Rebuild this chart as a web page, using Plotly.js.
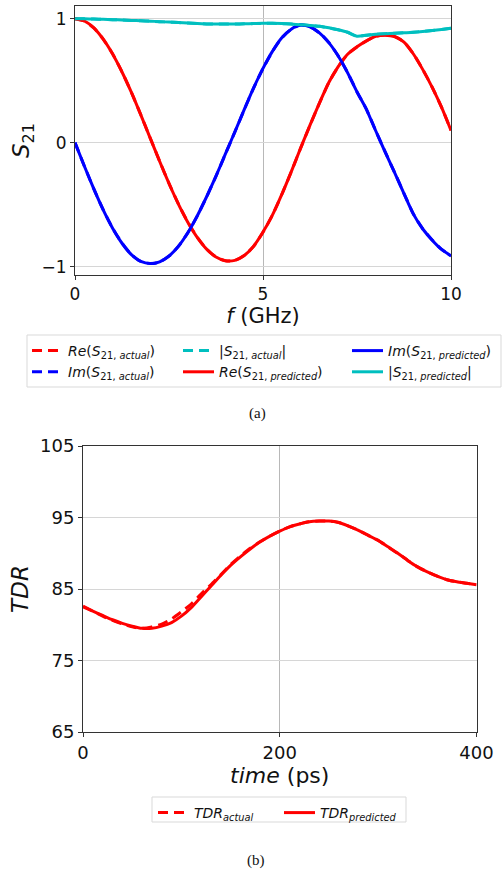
<!DOCTYPE html>
<html>
<head>
<meta charset="utf-8">
<script src="https://cdn.plot.ly/plotly-3.0.1.min.js"></script>
<style>
  html, body { margin: 0; padding: 0; background: #ffffff; }
  #chart { width: 503px; height: 874px; }
</style>
</head>
<body>
<div id="chart"></div>
<script>
// ---- (a) S21 versus frequency ----
const freqGHz = [0, 0.25, 0.5, 0.75, 1.0, 1.25, 1.5, 1.75, 2.0, 2.25, 2.5, 2.75, 3.0, 3.25, 3.5, 3.75,
  4.0, 4.25, 4.5, 4.75, 5.0, 5.25, 5.5, 5.75, 6.0, 6.25, 6.5, 6.75, 7.0, 7.25, 7.5, 7.75,
  8.0, 8.25, 8.5, 8.75, 9.0, 9.25, 9.5, 9.75, 10.0];

const reS21Actual = [1.000, 0.981, 0.925, 0.835, 0.716, 0.571, 0.406, 0.225, 0.038, -0.149, -0.328, -0.494,
  -0.640, -0.762, -0.858, -0.922, -0.952, -0.950, -0.910, -0.836, -0.722, -0.585, -0.418, -0.236,
  -0.045, 0.140, 0.318, 0.484, 0.612, 0.712, 0.772, 0.820, 0.858, 0.868, 0.856, 0.812, 0.716,
  0.590, 0.447, 0.285, 0.100];
const imS21Actual = [0.000, -0.190, -0.373, -0.541, -0.689, -0.810, -0.902, -0.958, -0.975, -0.962, -0.915,
  -0.836, -0.727, -0.592, -0.437, -0.270, -0.092, 0.085, 0.265, 0.440, 0.598, 0.735, 0.845, 0.915,
  0.948, 0.935, 0.886, 0.808, 0.700, 0.565, 0.410, 0.270, 0.095, -0.075, -0.240, -0.410, -0.575,
  -0.695, -0.785, -0.860, -0.912];
const absS21Actual = [1.000, 0.999, 0.997, 0.995, 0.992, 0.989, 0.986, 0.983, 0.980, 0.976, 0.972, 0.968,
  0.964, 0.960, 0.957, 0.956, 0.956, 0.957, 0.958, 0.960, 0.962, 0.962, 0.960, 0.956, 0.951,
  0.945, 0.938, 0.926, 0.910, 0.890, 0.858, 0.866, 0.874, 0.879, 0.882, 0.886, 0.890, 0.897,
  0.905, 0.913, 0.922];

const reS21Predicted = [1.000, 0.981, 0.925, 0.834, 0.715, 0.570, 0.405, 0.224, 0.037, -0.150, -0.329, -0.495,
  -0.641, -0.763, -0.858, -0.922, -0.952, -0.949, -0.910, -0.835, -0.721, -0.584, -0.417, -0.235,
  -0.044, 0.141, 0.319, 0.485, 0.613, 0.713, 0.773, 0.821, 0.858, 0.867, 0.855, 0.811, 0.715,
  0.589, 0.446, 0.284, 0.099];
const imS21Predicted = [0.000, -0.190, -0.373, -0.542, -0.690, -0.811, -0.903, -0.958, -0.975, -0.961, -0.914,
  -0.835, -0.726, -0.591, -0.436, -0.269, -0.091, 0.086, 0.266, 0.441, 0.599, 0.736, 0.846, 0.915,
  0.948, 0.934, 0.885, 0.807, 0.699, 0.564, 0.409, 0.269, 0.094, -0.076, -0.241, -0.411, -0.576,
  -0.696, -0.786, -0.861, -0.913];
const absS21Predicted = [1.000, 0.999, 0.997, 0.995, 0.992, 0.989, 0.986, 0.983, 0.980, 0.976, 0.972, 0.968,
  0.964, 0.960, 0.957, 0.956, 0.956, 0.957, 0.958, 0.960, 0.962, 0.962, 0.960, 0.956, 0.951,
  0.945, 0.938, 0.926, 0.910, 0.890, 0.858, 0.866, 0.874, 0.879, 0.882, 0.886, 0.890, 0.897,
  0.905, 0.913, 0.922];

const freqTicks = [0, 5, 10];
const s21Ticks = [-1, 0, 1];

// ---- (b) TDR versus time ----
const timePs = [0, 10, 20, 30, 40, 50, 60, 70, 80, 90, 100, 110, 120, 130, 140, 150, 160, 170, 180, 190,
  200, 210, 220, 230, 240, 250, 260, 270, 280, 290, 300, 310, 320, 330, 340, 350, 360, 370, 380, 390, 400];
const tdrActual = [82.6, 81.9, 81.2, 80.6, 80.1, 79.7, 79.5, 79.7, 80.1, 80.8, 81.8, 82.9, 84.3, 85.6, 87.0,
  88.4, 89.6, 90.7, 91.6, 92.4, 93.1, 93.7, 94.1, 94.4, 94.5, 94.5, 94.3, 93.8, 93.2, 92.5, 91.8,
  90.9, 90.0, 89.0, 88.1, 87.4, 86.8, 86.3, 86.0, 85.8, 85.6];
const tdrPredicted = [82.5, 81.9, 81.3, 80.7, 80.2, 79.8, 79.5, 79.5, 79.8, 80.3, 81.2, 82.4, 83.9, 85.4, 86.9,
  88.3, 89.5, 90.6, 91.6, 92.4, 93.1, 93.7, 94.1, 94.4, 94.5, 94.5, 94.3, 93.8, 93.2, 92.5, 91.8,
  90.9, 90.0, 89.0, 88.1, 87.4, 86.8, 86.3, 86.0, 85.8, 85.6];

const timeTicks = [0, 200, 400];
const tdrTicks = [65, 75, 85, 95, 105];

// ---- styling ----
const W = 503, H = 874;
const px = v => v / W;            // horizontal pixel -> paper fraction
const py = v => 1 - v / H;        // vertical pixel (from top) -> paper fraction
const FONT = 'DejaVu Sans, sans-serif';
const RED = '#ff0000', BLUE = '#0000ff', CYAN = '#00bfbf';
const DASH = '10px,6px';
const LW = 3;

function line(x, y, color, dashed, name, legend, lower) {
  return {
    type: 'scatter', mode: 'lines', x: x, y: y, name: name,
    line: { color: color, width: LW, dash: dashed ? DASH : 'solid', shape: 'spline', smoothing: 0.6 },
    legend: legend, xaxis: lower ? 'x2' : 'x', yaxis: lower ? 'y2' : 'y',
    hoverinfo: 'skip'
  };
}

const data = [
  line(freqGHz, reS21Actual, RED, true, '<i>Re</i>(<i>S</i><sub>21, <i>actual</i></sub>)', 'legend'),
  line(freqGHz, imS21Actual, BLUE, true, '<i>Im</i>(<i>S</i><sub>21, <i>actual</i></sub>)', 'legend'),
  line(freqGHz, absS21Actual, CYAN, true, '|<i>S</i><sub>21, <i>actual</i></sub>|', 'legend2'),
  line(freqGHz, reS21Predicted, RED, false, '<i>Re</i>(<i>S</i><sub>21, <i>predicted</i></sub>)', 'legend2'),
  line(freqGHz, imS21Predicted, BLUE, false, '<i>Im</i>(<i>S</i><sub>21, <i>predicted</i></sub>)', 'legend3'),
  line(freqGHz, absS21Predicted, CYAN, false, '|<i>S</i><sub>21, <i>predicted</i></sub>|', 'legend3'),
  line(timePs, tdrActual, RED, true, '<i>TDR</i><sub><i>actual</i></sub>', 'legend4', true),
  line(timePs, tdrPredicted, RED, false, '<i>TDR</i><sub><i>predicted</i></sub>', 'legend5', true)
];

const axisBase = {
  showline: true, mirror: true, linecolor: '#333333', linewidth: 1,
  ticks: 'outside', ticklen: 4, tickwidth: 1, tickcolor: '#333333',
  showgrid: true, gridwidth: 1, zeroline: false,
  tickfont: { family: FONT, size: 17, color: '#111111' },
  fixedrange: true, automargin: false
};

function legendAt(x, yTop, horizontal) {
  return {
    x: px(x), y: py(yTop), xanchor: 'left', yanchor: 'top', xref: 'paper', yref: 'paper',
    orientation: horizontal ? 'h' : 'v', bgcolor: 'rgba(0,0,0,0)', borderwidth: 0,
    font: { family: FONT, size: 14, color: '#111111' }, tracegroupgap: 0, itemwidth: 31,
    itemclick: false, itemdoubleclick: false
  };
}

const layout = {
  width: W, height: H,
  margin: { l: 0, r: 0, t: 0, b: 0 },
  paper_bgcolor: '#ffffff', plot_bgcolor: '#ffffff',
  showlegend: true,
  font: { family: FONT, color: '#111111' },
  xaxis: Object.assign({}, axisBase, {
    domain: [px(75), px(451)], range: [0, 10], tickvals: freqTicks,
    gridcolor: '#b8b8b8', anchor: 'y',
    title: { text: '<i>f</i> (GHz)', font: { family: FONT, size: 21 }, standoff: 4 }
  }),
  yaxis: Object.assign({}, axisBase, {
    domain: [py(275), py(6)], range: [-1.067, 1.102], tickvals: s21Ticks,
    gridcolor: '#d6d6d6', anchor: 'x',
    title: { text: '<i>S</i><sub>21</sub>', font: { family: FONT, size: 23 }, standoff: 5 }
  }),
  xaxis2: Object.assign({}, axisBase, {
    domain: [px(83), px(476.5)], range: [0, 400], tickvals: timeTicks,
    gridcolor: '#b8b8b8', anchor: 'y2',
    tickfont: { family: FONT, size: 18, color: '#111111' },
    title: { text: '<i>time</i> (ps)', font: { family: FONT, size: 22 }, standoff: 3 }
  }),
  yaxis2: Object.assign({}, axisBase, {
    domain: [py(732), py(446)], range: [65, 105], tickvals: tdrTicks,
    gridcolor: '#d6d6d6', anchor: 'x2',
    tickfont: { family: FONT, size: 18, color: '#111111' },
    title: { text: '<i>TDR</i>', font: { family: FONT, size: 23 }, standoff: 4 }
  }),
  legend: legendAt(27, 335, false),
  legend2: legendAt(178, 335, false),
  legend3: legendAt(347, 335, false),
  legend4: legendAt(153, 797, true),
  legend5: legendAt(279, 797, true),
  shapes: [
    { type: 'rect', xref: 'paper', yref: 'paper', layer: 'below',
      x0: px(27), x1: px(501), y0: py(387), y1: py(335),
      line: { color: '#d9d9d9', width: 1 }, fillcolor: '#ffffff' },
    { type: 'rect', xref: 'paper', yref: 'paper', layer: 'below',
      x0: px(152), x1: px(406), y0: py(822), y1: py(797),
      line: { color: '#d9d9d9', width: 1 }, fillcolor: '#ffffff' }
  ],
  annotations: [
    { text: '(a)', xref: 'paper', yref: 'paper', x: px(257), y: py(413), showarrow: false,
      xanchor: 'center', yanchor: 'middle', font: { family: 'Liberation Serif, serif', size: 15, color: '#111' } },
    { text: '(b)', xref: 'paper', yref: 'paper', x: px(256), y: py(860), showarrow: false,
      xanchor: 'center', yanchor: 'middle', font: { family: 'Liberation Serif, serif', size: 15, color: '#111' } }
  ]
};

Plotly.newPlot('chart', data, layout, { staticPlot: true, displayModeBar: false });
</script>
</body>
</html>
